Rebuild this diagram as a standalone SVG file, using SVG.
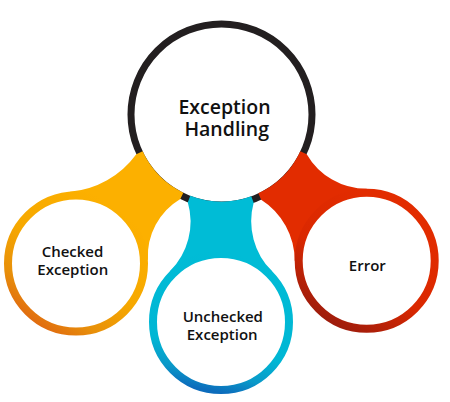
<svg xmlns="http://www.w3.org/2000/svg" width="450" height="402" viewBox="0 0 450 402">
<defs>
<linearGradient id="gOrange" x1="0.8" y1="0.1" x2="0.2" y2="0.95">
<stop offset="0" stop-color="#FCB000"/><stop offset="0.5" stop-color="#F6A800"/><stop offset="0.8" stop-color="#E8900A"/><stop offset="1" stop-color="#E06A10"/>
</linearGradient>
<linearGradient id="gCyan" x1="0.6" y1="0" x2="0.4" y2="1">
<stop offset="0" stop-color="#00BCD6"/><stop offset="0.7" stop-color="#00B6D4"/><stop offset="0.88" stop-color="#0A98C8"/><stop offset="1" stop-color="#0C6CBC"/>
</linearGradient>
<linearGradient id="gRed" x1="0.8" y1="0.2" x2="0.3" y2="1">
<stop offset="0" stop-color="#E22C00"/><stop offset="0.55" stop-color="#DA2800"/><stop offset="1" stop-color="#9E1C0C"/>
</linearGradient>
</defs>
<style>
.lbl{font-family:"Open Sans","Liberation Sans",sans-serif;font-weight:600;fill:#111;text-anchor:middle}
.big{font-size:19.5px}
.sm{font-size:15px}
.inner{fill:#fff}
</style>
<g id="node-main">
<circle cx="221.5" cy="114.5" r="90.5" fill="#fff" stroke="#231F20" stroke-width="7"/>
<text class="lbl big" x="224.5" y="114.3">Exception</text>
<text class="lbl big" x="226.7" y="135.5">Handling</text>
</g>
<g id="connectors">
<path d="M136.3,154.2 A92.3,92.3 0 0 1 69.7,191.8 L76,263.5 L147.9,259.7 A66.7,66.7 0 0 1 180.3,199 L183.36,192.7 A87,87 0 0 1 142.65,151.27 Z" fill="#FCB000"/>
<path d="M187.8,202.3 A69.9,69.9 0 0 1 170.1,271.1 L221,322 L271.9,271.1 A70.5,70.5 0 0 1 253.65,202.8 L251.26,196.25 A87,87 0 0 1 190.32,195.72 Z" fill="#00BCD6"/>
<path d="M306.7,154.2 A69.3,69.3 0 0 0 366.7,188.8 L366.7,260.8 L294.7,260.8 A72.5,72.5 0 0 0 261.2,199.7 L258.27,193.35 A87,87 0 0 0 300.35,151.27 Z" fill="#E22C00"/>
</g>
<g id="node-checked">
<circle cx="76" cy="263.5" r="68" class="inner" stroke="url(#gOrange)" stroke-width="8"/>
<text class="lbl sm" x="72.5" y="257">Checked</text>
<text class="lbl sm" x="72.8" y="275.3">Exception</text>
</g>
<g id="node-unchecked">
<circle cx="221" cy="322" r="68" class="inner" stroke="url(#gCyan)" stroke-width="8"/>
<text class="lbl sm" x="222.8" y="322">Unchecked</text>
<text class="lbl sm" x="222.2" y="340.3">Exception</text>
</g>
<g id="node-error">
<circle cx="366.7" cy="260.8" r="68" class="inner" stroke="url(#gRed)" stroke-width="8"/>
<text class="lbl sm" x="367.3" y="270.7">Error</text>
</g>
</svg>
